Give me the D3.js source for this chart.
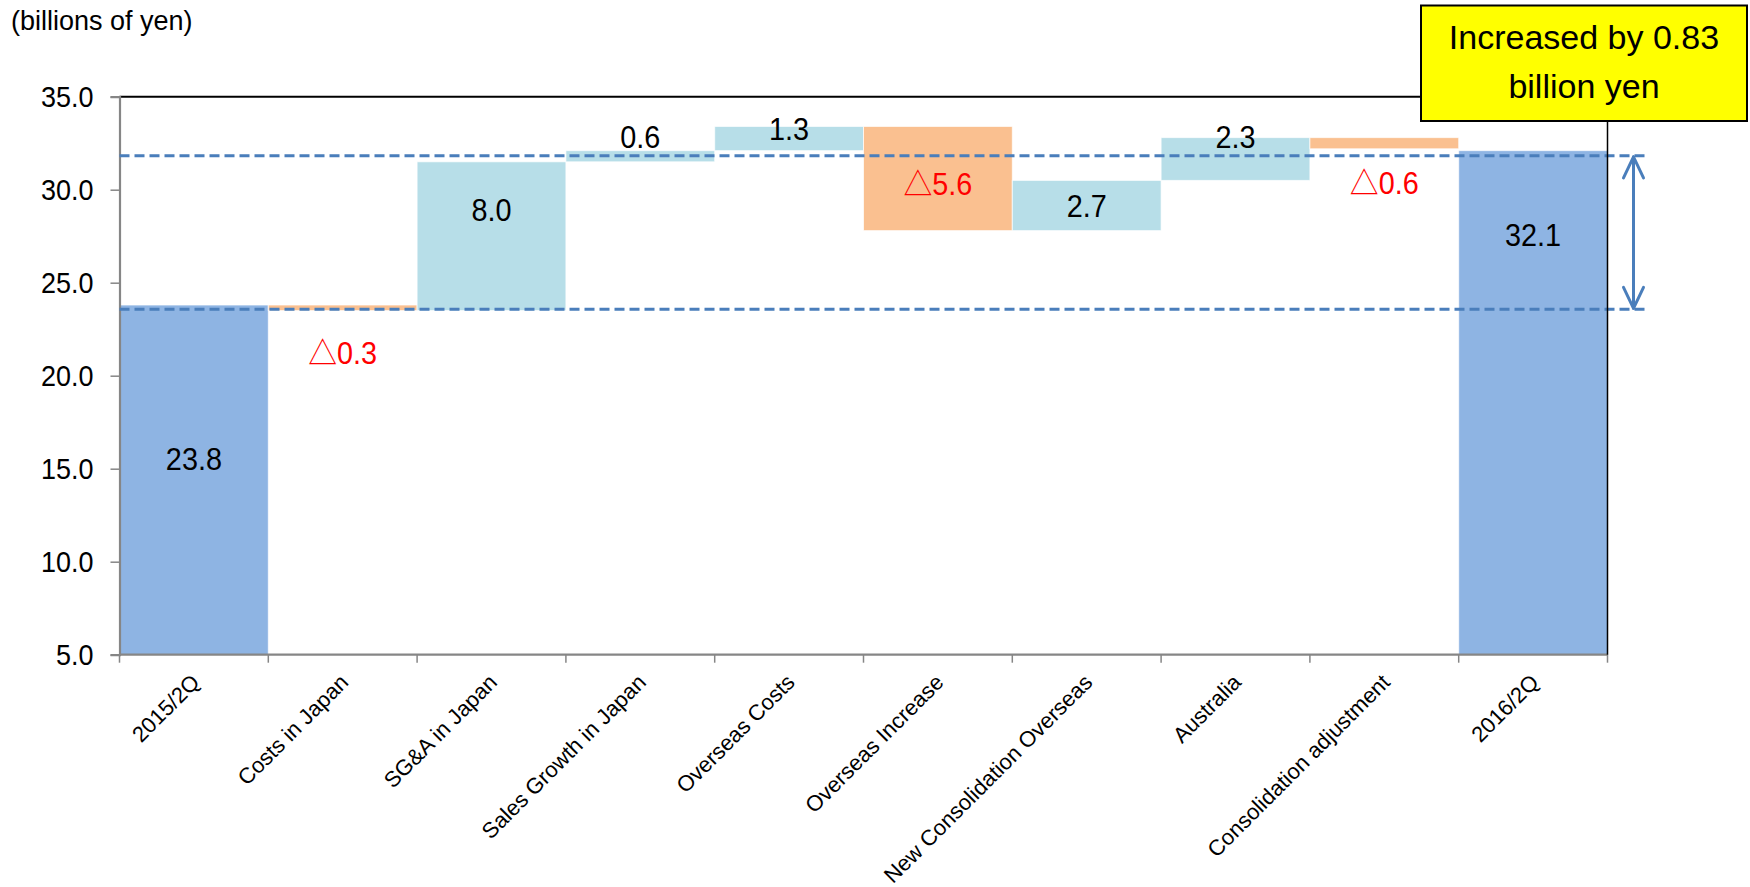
<!DOCTYPE html>
<html>
<head>
<meta charset="utf-8">
<script src="https://cdn.jsdelivr.net/npm/d3@7"></script>
<style>
  html, body { margin: 0; padding: 0; background: #fff; }
  svg { display: block; font-family: "Liberation Sans", Arial, "Noto Sans CJK JP", sans-serif; }
</style>
</head>
<body>
<svg id="chart" width="1750" height="887"></svg>
<script>
// ---------- data ----------
const categories = ["2015/2Q", "Costs in Japan", "SG&A in Japan", "Sales Growth in Japan",
  "Overseas Costs", "Overseas Increase", "New Consolidation Overseas", "Australia",
  "Consolidation adjustment", "2016/2Q"];
const kinds = ["total", "delta", "delta", "delta", "delta", "delta", "delta", "delta", "delta", "total"];
const values = [23.8, -0.3, 8.0, 0.6, 1.3, -5.6, 2.7, 2.3, -0.6, 32.1];
// where each data label sits, in axis units
const labelAt = [15.5, 21.2, 28.9, 32.85, 33.26, 30.3, 29.1, 32.8, 30.36, 27.56];
const yTicks = [5, 10, 15, 20, 25, 30, 35];
const guideLevels = [31.82, 23.57];
const unitLabel = "(billions of yen)";
const noteLines = ["Increased by 0.83", "billion yen"];

// ---------- layout ----------
const svg = d3.select("#chart");
const plot = { left: 119.5, right: 1607.5, top: 96.7, bottom: 654.7 };
const y = d3.scaleLinear().domain([5, 35]).range([plot.bottom, plot.top]);
const x = d3.scaleBand().domain(categories).range([plot.left, plot.right]).padding(0);

const COL_TOTAL = "#8eb4e3", COL_UP = "#b7dee8", COL_DOWN = "#fac090", COL_LINE = "#4a7ebb";

// running waterfall
let run = 0;
const bars = categories.map((c, i) => {
  let lo, hi;
  if (kinds[i] === "total") { lo = y.domain()[0]; hi = values[i]; run = values[i]; }
  else { const s = run; run = run + values[i]; lo = Math.min(s, run); hi = Math.max(s, run); }
  return { c, i, lo, hi, v: values[i], kind: kinds[i] };
});

// unit label
svg.append("text").attr("x", 11).attr("y", 30).attr("font-size", 27).attr("fill", "#000").text(unitLabel);

// bars
svg.append("g").selectAll("rect").data(bars).join("rect")
  .attr("x", d => x(d.c))
  .attr("width", x.bandwidth())
  .attr("y", d => y(d.hi))
  .attr("height", d => y(d.lo) - y(d.hi))
  .attr("fill", d => d.kind === "total" ? COL_TOTAL : (d.v < 0 ? COL_DOWN : COL_UP))
  .attr("stroke", "#ffffff").attr("stroke-opacity", 0.7).attr("stroke-width", 1);

// frame: top (black)
svg.append("line").attr("x1", plot.left).attr("x2", plot.right).attr("y1", plot.top).attr("y2", plot.top)
  .attr("stroke", "#000").attr("stroke-width", 2);

// y axis
const yAxis = d3.axisLeft(y).tickValues(yTicks).tickSize(9).tickFormat(d3.format(".1f"));
const gy = svg.append("g").attr("transform", `translate(${plot.left},0)`).call(yAxis);
gy.select(".domain").attr("stroke", "#868686").attr("stroke-width", 2.2);
gy.selectAll(".tick line").attr("stroke", "#868686").attr("stroke-width", 1.5);
gy.selectAll(".tick text").attr("font-size", 29).attr("fill", "#000")
  .attr("font-family", "Liberation Sans, Arial, sans-serif")
  .attr("x", 0).attr("dy", "0.35em")
  .attr("transform", "translate(-26,0) scale(0.93,1)");

// x axis
const gx = svg.append("g").attr("transform", `translate(0,${plot.bottom})`);
gx.append("line").attr("x1", plot.left).attr("x2", plot.right).attr("y1", 0).attr("y2", 0)
  .attr("stroke", "#868686").attr("stroke-width", 2.2);
const edges = categories.map(c => x(c)).concat([x(categories[categories.length - 1]) + x.bandwidth()]);
gx.selectAll("line.tk").data(edges).join("line").attr("class", "tk")
  .attr("x1", d => d).attr("x2", d => d).attr("y1", 0).attr("y2", 8)
  .attr("stroke", "#868686").attr("stroke-width", 1.5);
gx.selectAll("text.cat").data(categories).join("text").attr("class", "cat")
  .attr("transform", d => `translate(${x(d) + x.bandwidth() / 2 + 7},${29}) rotate(-45)`)
  .attr("text-anchor", "end")
  .attr("font-size", 22).attr("fill", "#000")
  .text(d => d);

// dashed guide lines
const guideRight = plot.right + 41;
svg.append("g").selectAll("line").data(guideLevels).join("line")
  .attr("x1", plot.left).attr("x2", guideRight)
  .attr("y1", d => y(d)).attr("y2", d => y(d))
  .attr("stroke", COL_LINE).attr("stroke-width", 3).attr("stroke-dasharray", "10,5");

// right frame line (on top of last bar)
svg.append("line").attr("x1", plot.right).attr("x2", plot.right).attr("y1", plot.top).attr("y2", plot.bottom)
  .attr("stroke", "#000").attr("stroke-width", 1.5);

// data labels
const lbl = svg.append("g").selectAll("g").data(bars).join("g")
  .attr("transform", d => `translate(${x(d.c) + x.bandwidth() / 2},${y(labelAt[d.i])}) scale(0.93,1)`);
lbl.append("text")
  .attr("text-anchor", "middle").attr("dy", "0.35em")
  .attr("font-size", 31)
  .attr("fill", d => d.v < 0 ? "#ff0000" : "#000")
  .text(d => d.v < 0 ? "\u25B3" + d3.format(".1f")(-d.v) : d3.format(".1f")(d.v));

// double arrow between guide lines
const ax = plot.right + 26;
const yTop = y(guideLevels[0]) + 1, yBot = y(guideLevels[1]) - 1;
const ag = svg.append("g").attr("stroke", COL_LINE).attr("stroke-width", 3).attr("fill", "none")
  .attr("stroke-linecap", "round").attr("stroke-linejoin", "round");
ag.append("line").attr("x1", ax).attr("x2", ax).attr("y1", yTop).attr("y2", yBot);
ag.append("path").attr("d", `M${ax - 10},${yTop + 21} L${ax},${yTop} L${ax + 10},${yTop + 21}`);
ag.append("path").attr("d", `M${ax - 10},${yBot - 21} L${ax},${yBot} L${ax + 10},${yBot - 21}`);

// note box
const box = svg.append("g");
box.append("rect").attr("x", 1421).attr("y", 5.5).attr("width", 326).attr("height", 115.5)
  .attr("fill", "#ffff00").attr("stroke", "#000").attr("stroke-width", 2);
box.selectAll("text").data(noteLines).join("text")
  .attr("x", 1584).attr("y", (d, i) => 49 + i * 49)
  .attr("text-anchor", "middle").attr("font-size", 34).attr("fill", "#000")
  .text(d => d);
</script>
</body>
</html>
